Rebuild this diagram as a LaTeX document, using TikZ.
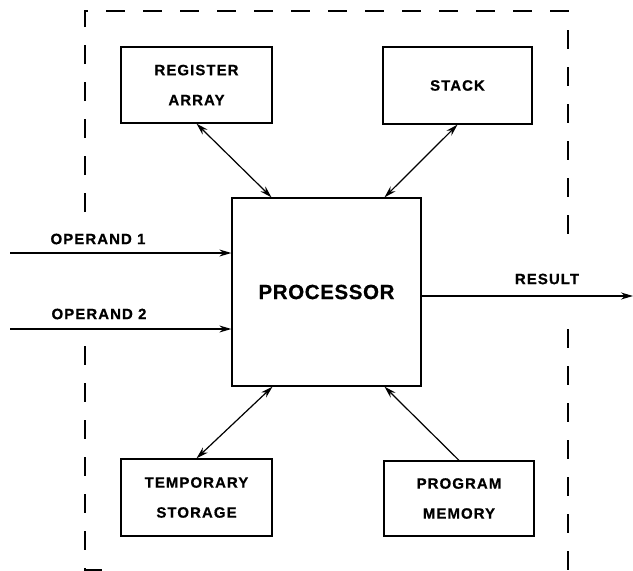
\documentclass[tikz,border=0pt]{standalone}
\usepackage{fontspec}
\setmainfont{Liberation Sans}
\newfontfamily\lblfont[LetterSpace=7,FakeBold=0.6]{Liberation Sans}
\newfontfamily\bigfont[LetterSpace=3,FakeBold=0.6]{Liberation Sans}
\usetikzlibrary{arrows.meta}

\tikzset{
  unitbox/.style={draw, line width=1.3pt, inner sep=0pt, align=center,
    font=\lblfont\bfseries\fontsize{15}{30}\selectfont},
  lbl/.style={inner sep=0pt, font=\lblfont\bfseries\fontsize{15}{18}\selectfont},
  tip/.tip={Stealth[length=12pt,width=7pt]},
  link/.style={line width=1.2pt, tip-tip},
  flow/.style={line width=1.2pt, -tip},
  boundary/.style={line width=1.4pt, dash pattern=on 19pt off 18pt}
}

\begin{document}
\begin{tikzpicture}[x=1pt, y=-1pt]
  \useasboundingbox (0,0) rectangle (633,571);

  % system boundary, broken where the signal lines pass through
  \draw[boundary] (85,212) -- (85,11) -- (568,11) -- (568,235);
  \draw[boundary] (568,329) -- (568,575);
  \draw[boundary] (85,346) -- (85,570) -- (102,570);

  % functional units
  \node[unitbox, minimum width=151pt, minimum height=76pt] (reg) at (196.5,85) {REGISTER\\ARRAY};
  \node[unitbox, minimum width=149pt, minimum height=77pt] (stack) at (457.5,85.5) {STACK};
  \node[unitbox, minimum width=189pt, minimum height=188pt,
        font=\bigfont\bfseries\fontsize{20.5}{24}\selectfont] (proc) at (326.5,292) {PROCESSOR};
  \node[unitbox, minimum width=151pt, minimum height=77pt] (temp) at (196.5,497.5) {TEMPORARY\\STORAGE};
  \node[unitbox, minimum width=150pt, minimum height=75pt] (prog) at (459,498.5) {PROGRAM\\MEMORY};

  % external signals
  \coordinate (op1) at (10,253);
  \coordinate (op2) at (10,329);
  \coordinate (res) at (633,296);

  \draw[flow] (op1) -- (op1 -| proc.west);
  \draw[flow] (op2) -- (op2 -| proc.west);
  \draw[flow] (res -| proc.east) -- (res);

  \node[lbl] (op1lbl) at (98,239) {OPERAND 1};
  \node[lbl] (op2lbl) at (99,314) {OPERAND 2};
  \node[lbl] (reslbl) at (547,279) {RESULT};

  % internal connections
  \draw[link] (reg.south) -- ([xshift=-55pt]proc.north);
  \draw[link] (stack.south) -- ([xshift=58pt]proc.north);
  \draw[link] ([xshift=-54pt]proc.south) -- (temp.north);
  \draw[flow] (prog.north) -- ([xshift=58pt]proc.south);
\end{tikzpicture}
\end{document}
